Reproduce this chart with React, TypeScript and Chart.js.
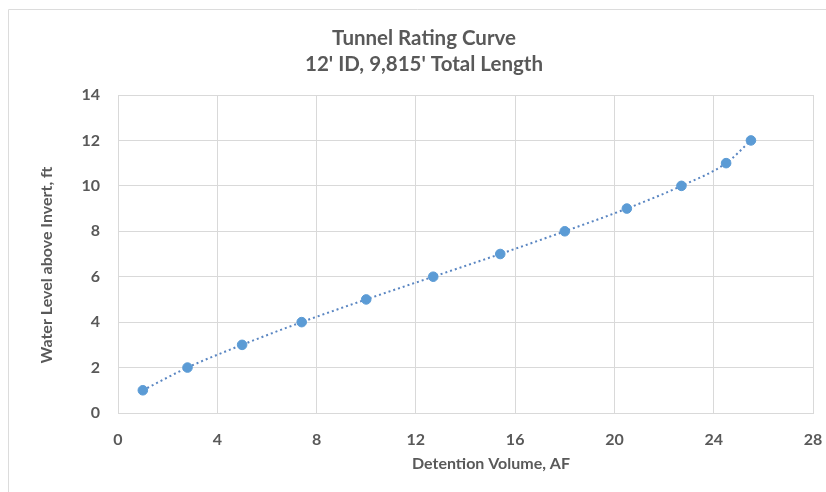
import React, { useEffect, useRef } from "react";
import { Chart, registerables } from "chart.js";

Chart.register(...registerables);

const titleLines = ["Tunnel Rating Curve", "12' ID, 9,815' Total Length"];
const xAxisTitle = "Detention Volume, AF";
const yAxisTitle = "Water Level above Invert, ft";
const detentionVolume = [1.0, 2.8, 5.0, 7.4, 10.0, 12.7, 15.4, 18.0, 20.5, 22.7, 24.5, 25.5];
const waterLevel = [1, 2, 3, 4, 5, 6, 7, 8, 9, 10, 11, 12];
const xRange = [0, 28];
const xStep = 4;
const yRange = [0, 14];
const yStep = 2;

const TEXT = "#595959";
const GRID = "#d9d9d9";
const FONT = "Lato, 'Open Sans', sans-serif";

const frame = {
  id: "frame",
  beforeDraw(chart: any) {
    const { ctx } = chart;
    ctx.save();
    ctx.strokeStyle = "#dcdcdc";
    ctx.lineWidth = 1;
    ctx.beginPath();
    ctx.moveTo(8.5, 492);
    ctx.lineTo(8.5, 9.5);
    ctx.lineTo(826, 9.5);
    ctx.stroke();
    ctx.restore();
  },
  beforeDatasetsDraw(chart: any) {
    const { ctx, chartArea } = chart;
    ctx.save();
    ctx.strokeStyle = GRID;
    ctx.lineWidth = 1;
    ctx.strokeRect(
      Math.round(chartArea.left) + 0.5,
      Math.round(chartArea.top) + 0.5,
      Math.round(chartArea.right - chartArea.left),
      Math.round(chartArea.bottom - chartArea.top)
    );
    ctx.restore();
  },
  afterDraw(chart: any) {
    const { ctx } = chart;
    ctx.save();
    ctx.fillStyle = TEXT;
    ctx.textAlign = "center";
    ctx.textBaseline = "middle";
    ctx.font = `bold 20.5px ${FONT}`;
    ctx.fillText(titleLines[0], 424, 38);
    ctx.fillText(titleLines[1], 424, 64);
    ctx.font = `bold 16px ${FONT}`;
    ctx.fillText(xAxisTitle, 491, 464);
    ctx.translate(47, 265);
    ctx.rotate(-Math.PI / 2);
    ctx.fillText(yAxisTitle, 0, 0);
    ctx.restore();
  },
};

export default function App() {
  const ref = useRef<HTMLCanvasElement | null>(null);

  useEffect(() => {
    if (!ref.current) return;
    const points = detentionVolume.map((x, i) => ({ x, y: waterLevel[i] }));
    const chart = new Chart(ref.current, {
      type: "scatter",
      data: {
        datasets: [
          {
            label: "Rating",
            data: points,
            backgroundColor: "#5b9bd5",
            borderColor: "#5b9bd5",
            pointRadius: 4.8,
            pointHoverRadius: 4.8,
            showLine: false,
            order: 0,
          },
          {
            label: "Trend",
            data: points,
            showLine: true,
            borderColor: "#5a86c2",
            borderWidth: 2,
            borderDash: [2, 3],
            pointRadius: 0,
            cubicInterpolationMode: "monotone",
            fill: false,
            order: 1,
          },
        ],
      },
      options: {
        responsive: false,
        animation: false,
        events: [],
        layout: { padding: { left: 0, right: 13, top: 95, bottom: 0 } },
        plugins: {
          legend: { display: false },
          tooltip: { enabled: false },
          title: { display: false },
        },
        scales: {
          x: {
            type: "linear",
            min: xRange[0],
            max: xRange[1],
            afterFit(scale: any) {
              scale.height = 79;
              scale.paddingLeft = 0;
              scale.paddingRight = 0;
            },
            ticks: {
              stepSize: xStep,
              color: TEXT,
              padding: 17,
              font: { family: FONT, size: 16, weight: "bold" },
            },
            grid: { color: GRID, drawTicks: false, lineWidth: 1 },
            border: { display: true, color: "#c8c8c8" },
          },
          y: {
            type: "linear",
            min: yRange[0],
            max: yRange[1],
            afterFit(scale: any) {
              scale.width = 118;
              scale.paddingTop = 0;
              scale.paddingBottom = 0;
            },
            ticks: {
              stepSize: yStep,
              color: TEXT,
              padding: 18,
              font: { family: FONT, size: 16, weight: "bold" },
            },
            grid: { color: GRID, drawTicks: false, lineWidth: 1 },
            border: { display: true, color: GRID },
          },
        },
      },
      plugins: [frame],
    });
    return () => chart.destroy();
  }, []);

  return (
    <div style={{ position: "absolute", left: 0, top: 0, width: 826, height: 492, background: "#fff" }}>
      <canvas ref={ref} width={826} height={492} style={{ display: "block" }} />
    </div>
  );
}
